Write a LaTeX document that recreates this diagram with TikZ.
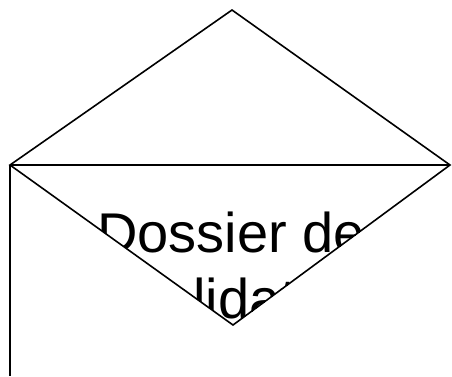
\documentclass[tikz,border=0pt]{standalone}
\usepackage{fontspec}
\setmainfont{Liberation Sans}
\tikzset{
  edge/.style={draw=black, line width=1.6pt, line join=miter},
  lbl/.style={inner sep=0pt, font=\fontsize{56}{64}\selectfont, text=black}
}
\begin{document}
\begin{tikzpicture}[x=1pt,y=-1pt]
\useasboundingbox (0,0) rectangle (452,376);
\coordinate (T) at (232,10);
\coordinate (L) at (10,165);
\coordinate (R) at (450,165);
\coordinate (B) at (233,325);
\coordinate (E) at (10,376);
\begin{scope}
  \clip (L) -- (R) -- (B) -- cycle;
  \node[lbl, anchor=base] (l1) at (231,252) {Dossier de};
  \node[lbl, anchor=base west] (l2) at (134,318) {validation};
\end{scope}
\draw[edge] (L) -- (T) -- (R) -- (B) -- cycle;
\draw[edge] (L) -- (R);
\draw[edge] (L) -- (E);
\end{tikzpicture}
\end{document}
